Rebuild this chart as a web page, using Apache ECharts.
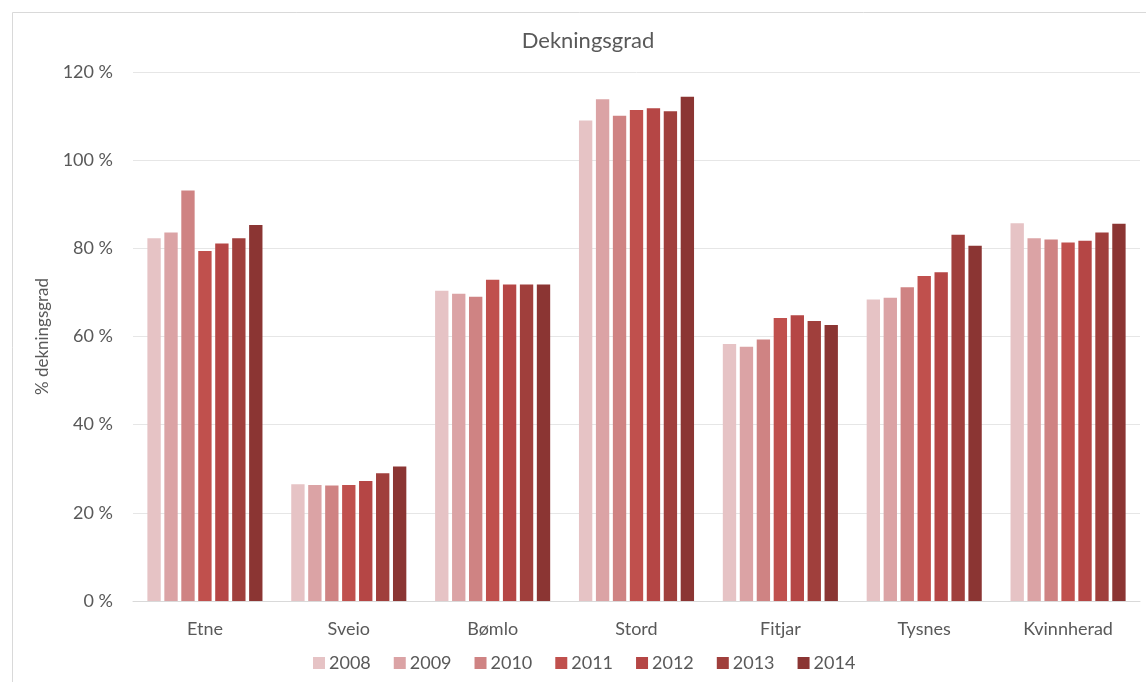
<!DOCTYPE html>
<html>
<head>
<meta charset="utf-8">
<script src="https://cdn.jsdelivr.net/npm/echarts@6/dist/echarts.min.js"></script>
<style>html,body{margin:0;padding:0;background:#fff;}#c{width:1146px;height:682px;}</style>
</head>
<body>
<div id="c"></div>
<script>
const categories = ['Etne','Sveio','Bømlo','Stord','Fitjar','Tysnes','Kvinnherad'];
const years = ['2008','2009','2010','2011','2012','2013','2014'];
const v2008 = [82.3, 26.5, 70.4, 109.0, 58.3, 68.4, 85.7];
const v2009 = [83.6, 26.3, 69.7, 113.8, 57.7, 68.8, 82.3];
const v2010 = [93.1, 26.2, 69.0, 110.1, 59.3, 71.2, 82.0];
const v2011 = [79.4, 26.3, 72.9, 111.4, 64.2, 73.7, 81.3];
const v2012 = [81.1, 27.2, 71.8, 111.8, 64.8, 74.6, 81.7];
const v2013 = [82.3, 29.0, 71.8, 111.1, 63.5, 83.1, 83.6];
const v2014 = [85.3, 30.5, 71.8, 114.4, 62.6, 80.6, 85.6];
const yTicks = [0, 20, 40, 60, 80, 100, 120];
const colors = ['#e6c3c5','#dba3a5','#cf8383','#c0504d','#b54645','#a03f3c','#8b3533'];
const seriesValues = [v2008, v2009, v2010, v2011, v2012, v2013, v2014];

const font = 'Lato, "Open Sans", sans-serif';
const chart = echarts.init(document.getElementById('c'));
chart.setOption({
  animation: false,
  backgroundColor: '#fff',
  graphic: [{
    type: 'rect', left: 10, top: 10, silent: true, z: -1,
    shape: { width: 1150, height: 680 },
    style: { fill: 'none', stroke: '#d9d9d9', lineWidth: 1 }
  }],
  title: {
    text: 'Dekningsgrad', left: 583, top: 25, textAlign: 'center',
    textStyle: { fontFamily: font, fontSize: 22, fontWeight: 'normal', color: '#595959' }
  },
  legend: {
    data: years, bottom: 10, left: 313, padding: 0,
    itemWidth: 12, itemHeight: 12, itemGap: 23, icon: 'rect',
    textStyle: { fontFamily: font, fontSize: 18, color: '#595959', padding: [0,0,0,-1] }
  },
  grid: { left: 133, right: 6, top: 72, bottom: 81, containLabel: false },
  xAxis: {
    type: 'category', data: categories,
    axisLine: { lineStyle: { color: '#d9d9d9' } },
    axisTick: { show: false },
    axisLabel: { fontFamily: font, fontSize: 18, color: '#595959', margin: 19 }
  },
  yAxis: {
    type: 'value', min: yTicks[0], max: yTicks[yTicks.length-1], interval: 20,
    name: '% dekningsgrad', nameLocation: 'middle', nameGap: 82,
    nameTextStyle: { fontFamily: font, fontSize: 17, color: '#595959' },
    axisLine: { show: false }, axisTick: { show: false },
    splitLine: { lineStyle: { color: '#e6e6e6' } },
    axisLabel: { fontFamily: font, fontSize: 18, color: '#595959', margin: 20,
      formatter: v => v + ' %' }
  },
  series: years.map((y, i) => ({
    name: y, type: 'bar', data: seriesValues[i],
    itemStyle: { color: colors[i] },
    barGap: '27%', barCategoryGap: '20%'
  }))
});
</script>
</body>
</html>
